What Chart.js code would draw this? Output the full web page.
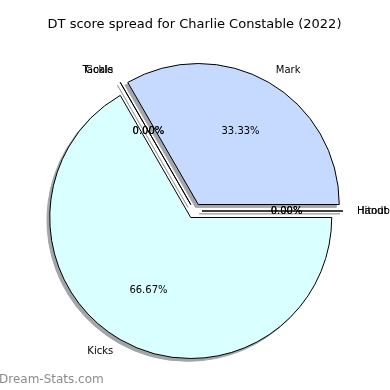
<!DOCTYPE html>
<html><head><meta charset="utf-8">
<script src="https://cdn.jsdelivr.net/npm/chart.js@4/dist/chart.umd.min.js"></script>
<style>html,body{margin:0;padding:0;background:#fff}canvas{display:block}</style>
</head><body>
<canvas id="c" width="390" height="390"></canvas>
<script>
const chartTitle = 'DT score spread for Charlie Constable (2022)';
const categories = ['Tackle', 'Goals', 'Mark', 'Handball', 'Hitout', 'Kicks'];
const values = [0, 0, 3, 0, 0, 6];
const sliceColors = ['#ffd9d9', '#ffe9c6', '#c6d9ff', '#d9ffd9', '#f0d9ff', '#d9ffff'];
const watermark = 'Dream-Stats.com';

const RADIUS = 141, EXPLODE = 7.5, SHADOW = 2.8;
const FONT = "'DejaVu Sans', sans-serif";

function zeroLine(ctx, a) {
  ctx.beginPath();
  ctx.moveTo(a.x, a.y);
  ctx.lineTo(a.x + Math.cos(a.startAngle) * a.outerRadius, a.y + Math.sin(a.startAngle) * a.outerRadius);
  ctx.lineWidth = 1;
  ctx.strokeStyle = '#000';
  ctx.stroke();
}
const midAngle = a => (a.startAngle + a.endAngle) / 2;

const pieArt = {
  id: 'pieArt',
  beforeDatasetDraw(chart, args) {
    const ctx = chart.ctx;
    const arcs = args.meta.data;
    arcs.forEach(a => {
      const m = midAngle(a);
      ctx.save();
      ctx.shadowColor = '#a2a6a8';
      ctx.shadowBlur = 0;
      ctx.shadowOffsetX = 3000 - SHADOW;
      ctx.shadowOffsetY = SHADOW;
      ctx.translate(Math.cos(m) * EXPLODE - 3000, Math.sin(m) * EXPLODE);
      if (a.circumference > 0) a.draw(ctx); else zeroLine(ctx, a);
      ctx.restore();
    });
    arcs.forEach(a => {
      const m = midAngle(a);
      ctx.save();
      ctx.translate(Math.cos(m) * EXPLODE, Math.sin(m) * EXPLODE);
      if (a.circumference > 0) a.draw(ctx); else zeroLine(ctx, a);
      ctx.restore();
    });
    return false;
  },
  afterDraw(chart) {
    const ctx = chart.ctx;
    const arcs = chart.getDatasetMeta(0).data;
    const total = values.reduce((s, v) => s + v, 0);
    ctx.save();
    ctx.font = '10px ' + FONT;
    ctx.fillStyle = '#000';
    ctx.textBaseline = 'middle';
    arcs.forEach((a, i) => {
      const m = midAngle(a);
      const cx = a.x + Math.cos(m) * EXPLODE, cy = a.y + Math.sin(m) * EXPLODE;
      const lr = a.outerRadius * 1.1;
      ctx.textAlign = Math.cos(m) > 1e-9 ? 'left' : 'right';
      ctx.fillText(categories[i], cx + Math.cos(m) * lr, cy + Math.sin(m) * lr);
      const pr = a.outerRadius * 0.6;
      ctx.textAlign = 'center';
      ctx.fillText((values[i] / total * 100).toFixed(2) + '%', cx + Math.cos(m) * pr, cy + Math.sin(m) * pr);
    });
    ctx.font = '12px ' + FONT;
    ctx.fillStyle = '#8c8c8c';
    ctx.textAlign = 'left';
    ctx.fillText(watermark, -1, 380);
    ctx.restore();
  }
};

new Chart(document.getElementById('c'), {
  type: 'pie',
  data: {
    labels: categories,
    datasets: [{
      data: values,
      backgroundColor: sliceColors,
      borderColor: '#000',
      borderWidth: 1
    }]
  },
  options: {
    responsive: false,
    animation: false,
    rotation: -30,
    radius: RADIUS,
    layout: { padding: { left: 0, right: 1, top: 0, bottom: 0.6 } },
    plugins: {
      legend: { display: false },
      tooltip: { enabled: false },
      title: {
        display: true,
        text: chartTitle,
        color: '#000',
        font: { family: FONT, size: 13, weight: 'normal' },
        padding: { top: 17, bottom: 0 }
      }
    }
  },
  plugins: [pieArt]
});
</script>
</body></html>
